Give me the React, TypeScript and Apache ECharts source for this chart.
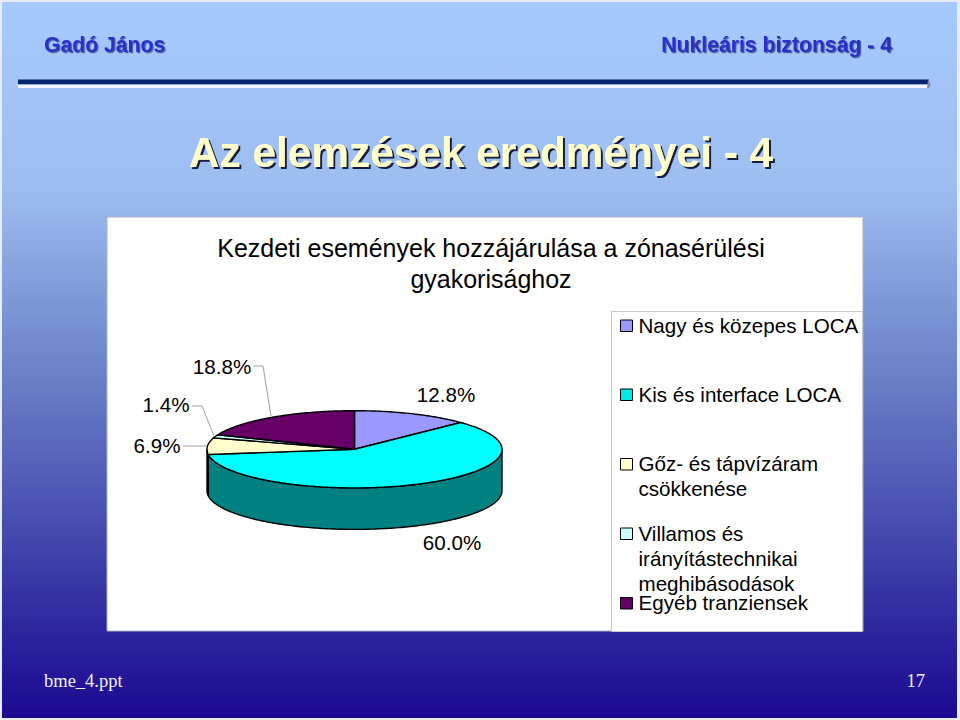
import React, { useEffect, useRef } from "react";
import * as echarts from "echarts";

const categories = [
  "Nagy és közepes LOCA",
  "Kis és interface LOCA",
  "Gőz- és tápvízáram\ncsökkenése",
  "Villamos és\nirányítástechnikai\nmeghibásodások",
  "Egyéb tranziensek",
];
const shares = [12.8, 60.0, 6.9, 1.4, 18.8];
const topColors = ["#9999ff", "#00ffff", "#ffffcc", "#ccffff", "#660066"];
const sideColors = ["#4c4c80", "#008080", "#808066", "#668080", "#330033"];
const legendColors = ["#9999ff", "#00e8e8", "#ffffcc", "#ccffff", "#660066"];

const SANS = '"Liberation Sans", Arial, sans-serif';
const SERIF = '"Liberation Serif", "Times New Roman", serif';

const PIE = { cx: 354.5, cy: 449.3, rx: 147.5, ry: 38.6, depth: 41.5 };
const LEGEND_Y = [325, 394, 463.5, 533, 602.5];
const LABEL_POS: [number, number][] = [
  [446, 394.5],
  [452, 542.5],
  [157, 445.5],
  [166, 404.5],
  [222, 366.5],
];
const LEADERS: ([number, number][] | null)[] = [
  null,
  null,
  [[183, 446], [207, 446]],
  [[192, 406], [202, 406], [214, 436]],
  [[253, 366], [263, 366], [271, 416]],
];

function ell(deg: number, dy = 0): number[] {
  const a = (deg * Math.PI) / 180;
  return [PIE.cx + PIE.rx * Math.sin(a), PIE.cy - PIE.ry * Math.cos(a) + dy];
}
function arc(from: number, to: number, dy = 0): number[][] {
  const pts: number[][] = [];
  const n = Math.max(1, Math.ceil(Math.abs(to - from)));
  for (let k = 0; k <= n; k++) pts.push(ell(from + ((to - from) * k) / n, dy));
  return pts;
}

function renderSlice(params: any, api: any) {
  const i = params.dataIndex;
  const total = shares.reduce((a, b) => a + b, 0);
  const before = shares.slice(0, i).reduce((a, b) => a + b, 0);
  const start = (before / total) * 360;
  const end = start + (api.value(0) / total) * 360;
  const children: any[] = [];
  const s = Math.max(start, 90);
  const e = Math.min(end, 270);
  if (e > s) {
    children.push({
      type: "polygon",
      shape: { points: [...arc(s, e), ...arc(e, s, PIE.depth)] },
      style: { fill: sideColors[i], stroke: "#000", lineWidth: 1.4 },
    });
  }
  children.push({
    type: "polygon",
    shape: { points: [[PIE.cx, PIE.cy], ...arc(start, end)] },
    style: { fill: topColors[i], stroke: "#000", lineWidth: 1.4 },
  });
  return { type: "group", children };
}

export default function App() {
  const ref = useRef<HTMLDivElement>(null);
  useEffect(() => {
    document.body.style.margin = "0";
    const chart = echarts.init(ref.current!, undefined, { renderer: "svg" });
    const graphics: any[] = [
      { type: "rect", z: -10, shape: { x: 0, y: 0, width: 960, height: 720 }, style: { fill: "#e6ecfa" } },
      {
        type: "rect",
        z: -9,
        shape: { x: 2, y: 2, width: 955, height: 716 },
        style: {
          fill: new echarts.graphic.LinearGradient(0, 0, 0, 1, [
            { offset: 0, color: "#a6caff" },
            { offset: 0.26, color: "#9dbdf0" },
            { offset: 0.5, color: "#6e85ca" },
            { offset: 0.75, color: "#4348ad" },
            { offset: 0.88, color: "#2c259e" },
            { offset: 1, color: "#1c0a90" },
          ]),
        },
      },
      { type: "rect", z: -8, shape: { x: 18, y: 84.5, width: 911, height: 3.5 }, style: { fill: "#f2f5fc" } },
      { type: "rect", z: -8, shape: { x: 18, y: 79.5, width: 911, height: 4.8 }, style: { fill: "#04246f" } },
      { type: "polygon", z: -8, shape: { points: [[928, 79.5], [931, 84], [929, 88], [927, 88]] }, style: { fill: "#7d8ba8" } },
      {
        type: "text", z: 5, x: 44, y: 44.5,
        style: {
          text: "Gadó János", font: `bold 21.2px ${SANS}`, fill: "#2a2ecb",
          verticalAlign: "middle",
          textShadowColor: "#4a5f98", textShadowOffsetX: 1.2, textShadowOffsetY: 1.2, textShadowBlur: 0.6,
        },
      },
      {
        type: "text", z: 5, x: 892, y: 44.5,
        style: {
          text: "Nukleáris biztonság - 4", font: `bold 21.2px ${SANS}`, fill: "#2a2ecb",
          align: "right", verticalAlign: "middle",
          textShadowColor: "#4a5f98", textShadowOffsetX: 1.2, textShadowOffsetY: 1.2, textShadowBlur: 0.6,
        },
      },
      {
        type: "text", z: 5, x: 481, y: 152,
        style: {
          text: "Az elemzések eredményei - 4", font: `bold 42.4px ${SANS}`, fill: "#ffffcc",
          align: "center", verticalAlign: "middle",
          textShadowColor: "#141c40", textShadowOffsetX: 2, textShadowOffsetY: 2, textShadowBlur: 0.6,
        },
      },
      { type: "rect", z: -5, shape: { x: 107, y: 217, width: 756, height: 414 }, style: { fill: "#fff", stroke: "#a8b0c8", lineWidth: 1 } },
      { type: "rect", z: -4, shape: { x: 611.5, y: 311.5, width: 251, height: 320 }, style: { fill: "#fff", stroke: "#c8c8c8", lineWidth: 1 } },
      { type: "text", z: 5, x: 44, y: 681, style: { text: "bme_4.ppt", font: `18.5px ${SERIF}`, fill: "#f0f0ff", verticalAlign: "middle" } },
      { type: "text", z: 5, x: 925, y: 681, style: { text: "17", font: `18.5px ${SERIF}`, fill: "#f0f0ff", align: "right", verticalAlign: "middle" } },
    ];
    categories.forEach((name, i) => {
      graphics.push({
        type: "rect", z: 5,
        shape: { x: 620.5, y: LEGEND_Y[i] - 5, width: 12, height: 11.5 },
        style: { fill: legendColors[i], stroke: "#000", lineWidth: 1 },
      });
      graphics.push({
        type: "text", z: 5, x: 638.5, y: LEGEND_Y[i] - 12.5,
        style: { text: name, font: `20.6px ${SANS}`, fill: "#000", lineHeight: 25, verticalAlign: "top" },
      });
    });
    shares.forEach((v, i) => {
      graphics.push({
        type: "text", z: 5, x: LABEL_POS[i][0], y: LABEL_POS[i][1],
        style: { text: `${v.toFixed(1)}%`, font: `20.6px ${SANS}`, fill: "#000", align: "center", verticalAlign: "middle" },
      });
      const l = LEADERS[i];
      if (l) {
        graphics.push({
          type: "polyline", z: 4,
          shape: { points: l },
          style: { stroke: "#a0a0a0", lineWidth: 1, fill: "none" },
        });
      }
    });
    chart.setOption({
      animation: false,
      title: {
        text: "Kezdeti események hozzájárulása a zónasérülési\ngyakorisághoz",
        left: 486, top: 227, textAlign: "center",
        textStyle: { fontFamily: SANS, fontSize: 25, fontWeight: "normal", color: "#000", lineHeight: 31 },
      },
      graphic: { elements: graphics },
      series: [
        {
          type: "custom",
          coordinateSystem: "none",
          silent: true,
          z: 3,
          renderItem: renderSlice,
          data: shares.map((v, i) => ({ name: categories[i], value: [v] })),
        },
      ],
    });
    return () => chart.dispose();
  }, []);
  return <div ref={ref} style={{ position: "absolute", left: 0, top: 0, width: 960, height: 720 }} />;
}
